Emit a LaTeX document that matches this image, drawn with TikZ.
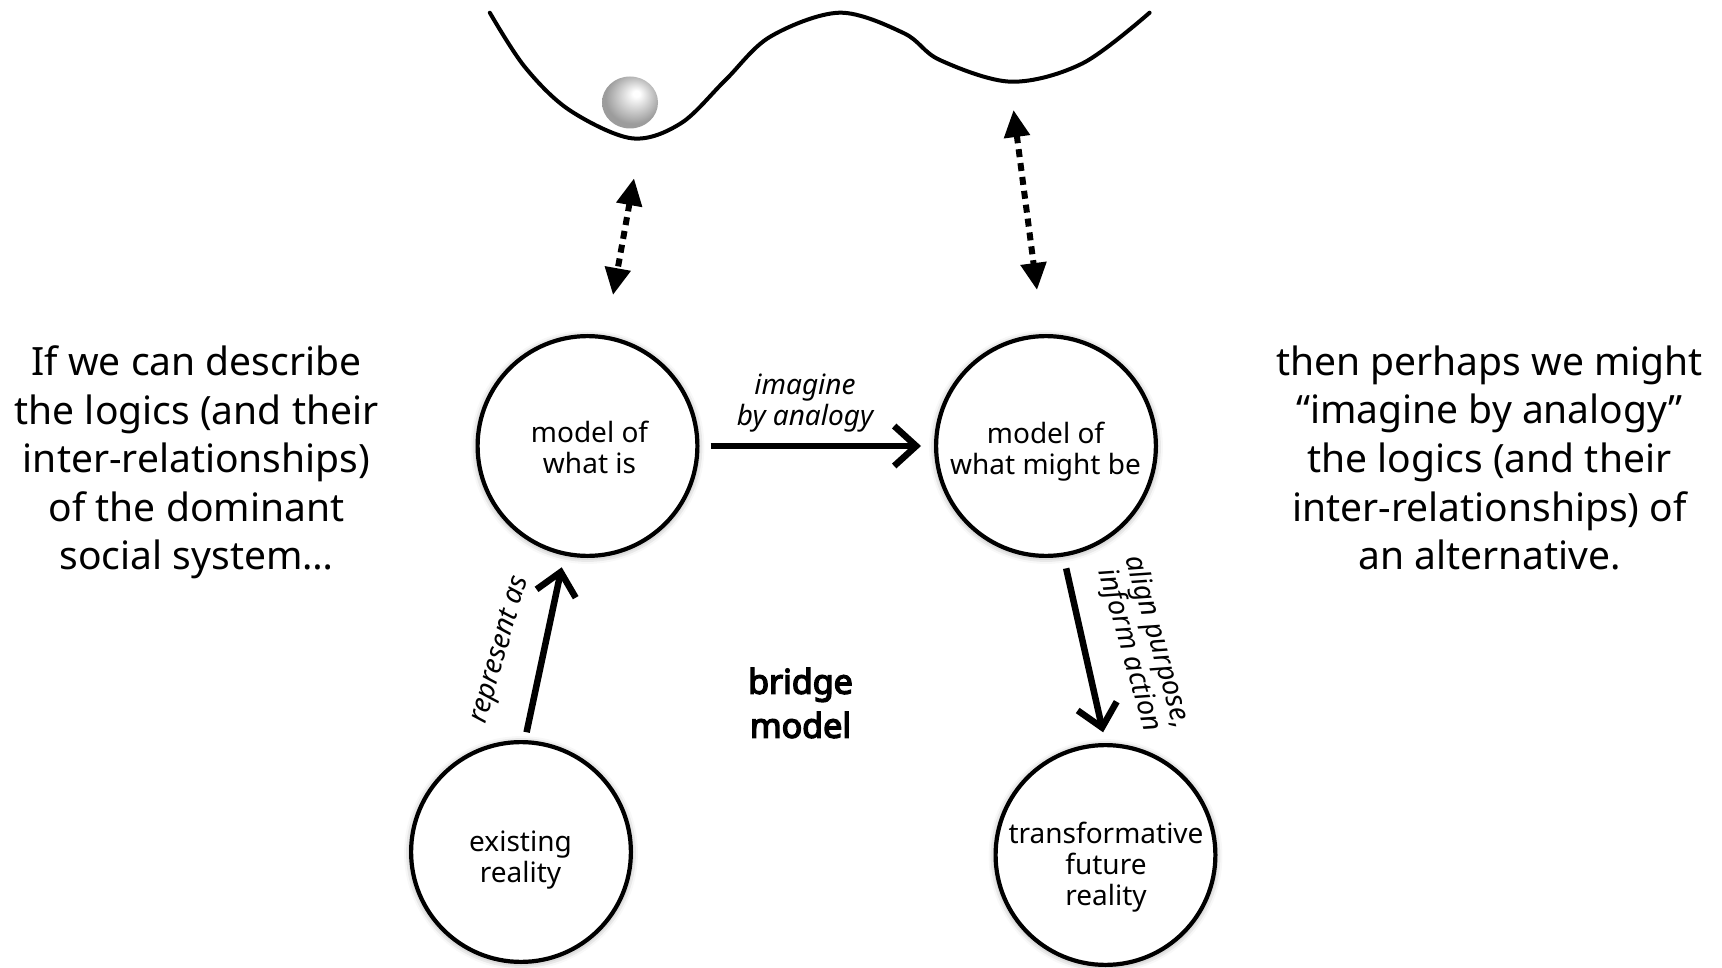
\documentclass[tikz,border=0pt]{standalone}
\usepackage{fontspec}
\setmainfont{Noto Sans}[AutoFakeBold=4.2]
\usetikzlibrary{arrows.meta,shadows.blur}

% soft grey sphere with a highlight towards the upper right
\pgfdeclareradialshading{pearl}{\pgfpoint{6bp}{9bp}}{%
  color(0bp)=(white); color(3bp)=(white); color(20bp)=(gray!60);
  color(25bp)=(gray!78); color(50bp)=(gray!78)}

\tikzset{
  bubble/.style={circle, draw, line width=4.2pt, minimum size=219.8pt,
    inner sep=0pt, fill=white,
    blur shadow={shadow xshift=0pt, shadow yshift=-1pt,
      shadow blur radius=7pt, shadow opacity=45}},
  bubbletext/.style={align=center, inner sep=0pt,
    font=\fontsize{28}{31}\selectfont},
  sidetext/.style={align=center, font=\fontsize{39}{48.6}\selectfont},
  lbl/.style={align=center, inner sep=0pt, font=\fontsize{28}{31}\selectfont\itshape},
  heavyarrow/.style={line width=6.5pt, -{Straight Barb[length=22pt,width=40pt]}},
  dotsarrow/.style={line width=6pt, dash pattern=on 8pt off 6pt,
    {Triangle[length=27pt,width=25pt]}-{Triangle[length=27pt,width=25pt]}},
  landscape/.style={line width=4pt, line cap=round, line join=round},
}

\begin{document}
\begin{tikzpicture}[x=1pt,y=-1pt]
  \useasboundingbox (0,0) rectangle (1722,968);

  % potential landscape with two wells
  \draw[landscape] plot[smooth, tension=0.55] coordinates {
    (489.8,12.7) (524.6,66.7) (569.3,110) (631.8,138.3) (680.9,123.3)
    (725.5,80) (770.2,36.7) (839.4,12.7) (904.1,33.3) (939.8,60)
    (1011.2,81.7) (1082.7,63.3) (1149.6,12.7)};

  % ball resting in the left well
  \shade[shading=pearl] (630,102.5) ellipse [x radius=28, y radius=26];

  % circles
  \node[bubble] (A) at (587.5,446) {};
  \node[bubble] (B) at (1046,446) {};
  \node[bubble] (C) at (521,852) {};
  \node[bubble] (D) at (1105.5,855) {};

  % circle captions
  \node[bubbletext] (At) at (589.5,447) {model of\\what is};
  \node[bubbletext] (Bt) at (1045.5,451.3) {model of\\what might be};
  \node[bubbletext] (Ct) at (520.5,859.8) {existing\\reality};
  \node[bubbletext] (Dt) at (1106,866.8) {transformative\\future\\reality};

  % links between the circles
  \draw[heavyarrow, shorten <=11pt, shorten >=13pt] (A.east) -- (B.west);
  \draw[heavyarrow, shorten <=8pt, shorten >=12pt] (C.88) -- (A.258);
  \draw[heavyarrow, shorten <=12pt, shorten >=11pt] (B.279) -- (D.90);

  % links between the wells and the models
  \coordinate (wl1) at (634,178.3);
  \coordinate (wl2) at (613,295);
  \coordinate (wr1) at (1013.5,110);
  \coordinate (wr2) at (1037,290);
  \draw[dotsarrow] (wl1) -- (wl2);
  \draw[dotsarrow] (wr1) -- (wr2);

  % labels
  \node[lbl] (l1) at (805,403.5) {imagine\\by analogy};
  \node[lbl, rotate=74] (l2) at (501,650) {represent as};
  \node[lbl, rotate=-74, font=\fontsize{28}{28}\selectfont\itshape] (l3) at (1143,646) {align purpose,\\inform action};
  \node[align=center, font=\fontsize{34}{44}\selectfont\bfseries] (bm) at (800.5,703) {bridge\\model};

  % side texts
  \node[sidetext] (tl) at (196.5,462.5) {If we can describe\\the logics (and their\\inter-relationships)\\of the dominant\\social system\ldots};
  \node[sidetext] (tr) at (1489.5,458) {then perhaps we might\\“imagine by analogy”\\the logics (and their\\inter-relationships) of\\an alternative.};
\end{tikzpicture}
\end{document}
